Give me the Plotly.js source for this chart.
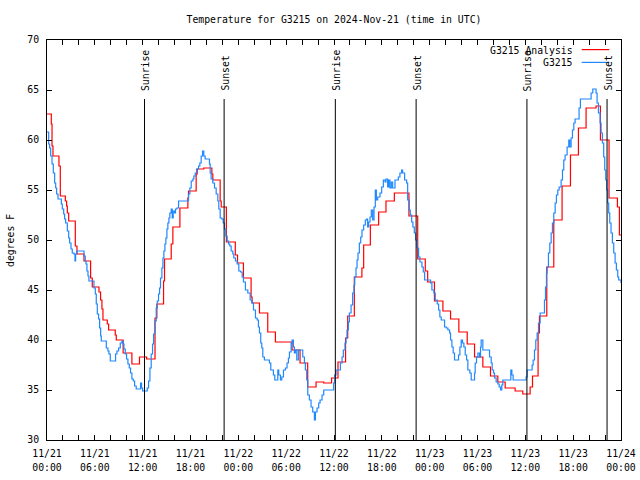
<!DOCTYPE html>
<html>
<head>
<meta charset="utf-8">
<script src="https://cdn.plot.ly/plotly-3.0.1.min.js"></script>
<style>
  html, body { margin: 0; padding: 0; background: #fff; }
  #chart { width: 640px; height: 480px; }
</style>
</head>
<body>
<div id="chart"></div>
<script>
// ---- data (hours since 2024-11-21 00:00 UTC, degrees F) ----
const analysisHours = [0,0.54,0.63,0.75,1.50,1.67,2.30,2.46,2.55,2.72,3.55,3.76,4.64,5.47,5.68,6.52,6.72,6.89,7.02,7.56,7.73,8.56,8.69,9.55,10.65,11.6,12.5,13.55,13.78,14.62,14.74,15.58,15.79,16.67,17.67,17.75,18.71,18.84,19.67,20.68,20.8,21.72,21.85,22.5,23.62,23.9,24.64,25.6,25.73,26.65,27.69,28.65,30.74,31.74,32.7,33.75,34.71,35.7,36.5,37.45,37.72,38.55,39.5,39.72,40.56,41.6,42.52,43.57,45.4,46.5,47.45,47.75,48.6,49.66,50.62,51.66,52.71,53.63,54.67,55.63,56.55,57.47,58.72,59.68,60.6,60.9,61.6,61.77,62.69,63.57,64.61,65.66,66.66,67.62,68.87,69.42,70.5,71.55,71.8,72];
const analysisTemp  = [62.6,61.6,59.4,58.4,57.4,54.4,53.9,53.4,52.7,51.9,49.4,48.6,47.9,46.2,45.3,44.8,44.0,43.1,42.0,41.6,41.0,40.5,40.0,38.7,37.6,38.3,38.1,42.2,43.6,45.9,48.1,49.6,51.3,53.2,54.2,54.9,56.6,57.1,57.2,56.6,56.0,53.9,53.3,49.8,48.5,47.7,46.2,44.3,43.7,42.7,40.8,39.8,39.0,37.7,35.3,35.8,35.7,36.2,37.8,40.2,42.4,46.3,47.2,49.5,51.5,52.8,53.9,54.7,52.4,48.1,46.9,45.8,43.9,42.9,42.1,40.8,39.6,38.3,37.3,36.4,35.8,35.2,34.9,34.6,35.3,36.4,40.7,42.4,47.3,52.0,55.4,58.5,61.2,63.2,63.4,60.0,54.2,53.3,50.5,50.5];

const stationHours = [0,0.21,0.33,0.46,0.63,0.79,0.96,1.09,1.21,1.38,1.80,1.92,2.09,2.21,2.34,2.55,2.72,2.84,3.01,3.17,3.38,3.51,3.59,3.72,4.64,4.80,4.89,5.01,5.14,5.26,5.89,6.06,6.18,6.31,6.47,6.60,6.73,6.81,7.44,7.64,7.77,7.94,8.60,8.77,8.98,9.19,9.40,9.52,9.65,9.82,9.98,10.15,10.32,10.48,10.65,10.82,10.99,11.19,11.74,11.86,11.99,12.57,12.74,12.91,13.07,13.24,13.37,13.53,13.70,13.83,13.99,14.12,14.24,14.41,14.54,14.66,14.79,14.91,15.04,15.16,15.29,15.41,15.58,15.71,15.83,16.00,16.12,16.29,16.50,17.75,17.92,18.09,18.30,18.42,18.59,18.76,19.01,19.17,19.34,19.51,19.67,19.84,20.38,20.47,20.59,20.80,21.01,21.22,21.43,21.55,21.72,21.93,22.10,22.26,22.43,22.60,22.77,22.93,23.10,23.31,23.43,23.64,23.85,24.06,
  24.27,24.48,24.64,24.89,25.19,25.48,25.69,25.90,26.15,26.36,26.52,26.65,26.81,26.94,27.07,27.27,27.9,28.07,28.4,28.57,28.95,29.07,29.28,29.45,29.66,29.91,30.11,30.28,30.41,30.62,30.74,30.91,31.03,31.16,31.33,31.53,32.08,32.29,32.41,32.58,32.71,32.91,33.12,33.33,33.54,33.67,33.87,34.08,34.25,34.5,34.71,35.96,36.09,36.26,36.8,37.01,37.17,37.38,37.51,37.63,37.8,37.93,38.14,38.34,38.51,38.6,38.76,38.89,39.01,39.18,39.35,39.51,39.72,39.93,40.1,40.22,40.35,40.52,40.68,40.85,41.02,41.18,41.31,41.48,41.77,41.98,42.19,42.4,42.52,42.73,42.86,43.02,43.19,43.36,43.65,44.07,44.27,44.48,44.61,44.86,45.11,45.24,45.44,45.57,45.74,45.9,46.07,46.24,46.41,46.61,46.78,47.03,47.2,47.37,
  48.11,48.28,48.53,48.7,48.95,49.12,49.28,49.45,49.87,50.08,50.29,50.5,50.62,50.79,50.95,51.12,51.62,51.79,51.96,52.12,52.29,52.46,52.63,52.79,53.04,53.21,53.63,53.71,53.88,54.05,54.25,54.38,54.46,54.67,55.51,55.72,55.84,56.01,56.13,56.34,56.55,56.72,56.89,57.05,57.18,58.18,58.31,58.47,60.1,60.23,60.85,60.98,61.15,61.31,61.48,61.65,61.86,62.4,62.53,62.65,62.73,62.9,63.07,63.24,63.4,63.57,63.74,63.9,64.07,64.24,64.49,64.66,64.82,64.99,65.24,65.45,65.57,65.74,65.91,66.08,66.24,66.74,66.91,68.25,68.46,68.87,69.0,69.17,69.38,69.5,69.67,69.83,69.96,70.09,70.21,70.34,70.46,70.59,70.75,70.92,71.09,71.26,71.42,71.59,71.71,72];
const stationTemp = [60.8,59.6,59.2,58.4,57.6,56.7,55.7,55.2,54.6,54.1,53.6,53.1,52.6,52.1,51.7,50.9,50.2,49.7,49.1,48.7,48.6,47.9,48.6,48.9,48.4,47.9,47.6,46.9,46.4,45.9,45.2,44.6,43.6,42.6,42.1,41.2,40.4,39.9,39.2,38.9,38.6,37.9,38.6,38.9,39.2,39.7,39.9,39.6,39.1,38.6,38.1,37.6,37.2,36.7,36.1,35.9,35.4,35.1,35.7,35.2,34.9,35.2,35.9,37.2,38.6,39.6,40.6,41.9,43.2,43.9,44.6,45.2,46.2,47.2,48.2,48.9,49.6,50.2,51.1,51.7,52.2,52.7,53.1,52.2,52.9,52.7,53.1,53.2,53.9,54.6,55.2,55.9,56.1,56.4,56.7,57.1,57.4,57.7,58.4,58.9,58.4,58.1,57.6,56.7,56.1,55.7,55.2,54.6,53.9,53.1,52.2,52.1,51.7,51.1,50.4,49.9,49.6,49.4,48.9,48.6,48.2,47.9,47.6,46.9,
  46.8,46.3,45.8,45.0,44.7,44.0,43.7,43.0,42.2,42.0,41.3,40.7,39.7,39.2,38.3,38.0,37.7,37.0,36.5,36.0,37.0,36.5,36.0,36.3,37.0,37.2,37.7,38.2,38.8,39.7,40.0,39.3,38.7,39.0,38.0,39.0,38.3,37.7,37.0,36.0,34.5,34.0,33.3,32.8,32.0,32.8,33.2,33.7,34.0,34.5,35.0,35.7,36.5,37.0,37.7,38.3,39.0,39.7,40.2,41.0,41.8,42.7,43.5,44.7,45.5,46.3,47.2,48.0,48.7,49.7,50.3,51.0,51.5,52.0,52.1,51.3,51.8,52.3,53.0,52.0,53.3,55.0,54.0,54.3,54.7,55.3,56.0,55.8,56.1,55.3,56.0,55.2,55.8,55.2,56.0,56.3,56.7,57.0,56.7,56.0,55.7,54.0,53.0,52.5,51.8,51.3,50.7,50.0,49.2,48.3,47.8,47.3,46.8,46.0,
  45.7,45.0,44.7,44.0,43.6,43.0,42.3,42.0,41.3,41.2,41.0,40.7,40.0,39.3,38.7,38.0,38.5,39.3,40.0,39.7,39.3,38.5,38.0,37.0,36.7,36.0,36.7,37.7,38.3,38.7,38.3,39.3,40.0,39.0,38.3,37.7,37.0,36.7,36.2,35.8,35.6,35.3,35.0,35.5,36.0,37.0,36.5,36.0,36.3,37.0,37.5,38.0,39.0,40.0,40.7,41.7,42.7,44.0,45.3,46.7,47.3,48.7,49.7,50.7,51.7,52.7,53.7,54.5,55.0,55.3,56.0,57.0,58.0,58.5,59.3,60.0,59.3,60.2,61.0,61.7,62.1,63.2,64.1,64.7,65.1,64.7,63.7,62.7,61.7,60.7,59.7,58.3,57.0,56.0,55.0,53.7,52.7,51.7,50.7,49.7,48.7,47.7,47.0,46.3,46.0,45.7];

const sunriseTimes = ['2024-11-21 12:14', '2024-11-22 12:10', '2024-11-23 12:12'];
const sunsetTimes  = ['2024-11-21 22:13', '2024-11-22 22:18', '2024-11-23 22:15'];

const tickHours = [];
for (let h = 0; h <= 72; h += 2) tickHours.push(h);
const dateLabels = {0:'11/21',6:'11/21',12:'11/21',18:'11/21',24:'11/22',30:'11/22',36:'11/22',42:'11/22',
  48:'11/23',54:'11/23',60:'11/23',66:'11/23',72:'11/24'};
const timeLabels = {0:'00:00',6:'06:00',12:'12:00',18:'18:00',24:'00:00',30:'06:00',36:'12:00',42:'18:00',
  48:'00:00',54:'06:00',60:'12:00',66:'18:00',72:'00:00'};

// ---- build ----
const T0 = Date.UTC(2024, 10, 21, 0, 0);
const toMs = h => T0 + h * 3600000;
const FONT = 'DejaVu Sans Mono, monospace';
const fnt = {family: FONT, size: 9.8, color: '#000'};

const traces = [
  {x: analysisHours.map(toMs), y: analysisTemp, type: 'scatter', mode: 'lines',
   line: {color: '#ff0000', width: 1.2, shape: 'hv'}, name: 'G3215 Analysis', hoverinfo: 'skip'},
  {x: stationHours.map(toMs), y: stationTemp, type: 'scatter', mode: 'lines',
   line: {color: '#1e88ff', width: 1.2, shape: 'hv'}, name: 'G3215', hoverinfo: 'skip'},
  // empty trace so the second (time-of-day label) x axis is drawn
  {x: [], y: [], xaxis: 'x2', yaxis: 'y', type: 'scatter', mode: 'lines',
   hoverinfo: 'skip', showlegend: false}
];

const shapes = [];
const annotations = [];
function sunMark(t, label) {
  shapes.push({type: 'line', xref: 'x', yref: 'y', x0: t, x1: t, y0: 30, y1: 64.1,
               line: {color: '#000', width: 1}, layer: 'above'});
  annotations.push({xref: 'x', yref: 'y', x: t, y: 64.8, text: label, textangle: -90,
                    showarrow: false, xanchor: 'center', yanchor: 'bottom', borderpad: 0,
                    xshift: 1, font: fnt});
}
sunriseTimes.forEach(t => sunMark(t, 'Sunrise'));
sunsetTimes.forEach(t => sunMark(t, 'Sunset'));

// legend (gnuplot style: text then sample)
const legendItems = [{name: 'G3215 Analysis', color: '#ff0000', y: 0.975},
                     {name: 'G3215', color: '#1e88ff', y: 0.943}];
legendItems.forEach(it => {
  annotations.push({xref: 'paper', yref: 'paper', x: 0.918, y: it.y, text: it.name,
                    showarrow: false, xanchor: 'right', yanchor: 'middle', borderpad: 0, font: fnt});
  shapes.push({type: 'line', xref: 'paper', yref: 'paper', x0: 0.9315, x1: 0.9796,
               y0: it.y + 0.001, y1: it.y + 0.001, line: {color: it.color, width: 1.2}});
});

annotations.push({xref: 'paper', yref: 'paper', x: -0.0645, y: 0.5, text: 'degrees F',
                  textangle: -90, showarrow: false, xanchor: 'center', yanchor: 'middle', font: fnt});

const layout = {
  width: 640, height: 480,
  margin: {l: 47, r: 19, t: 40, b: 40},
  paper_bgcolor: '#fff', plot_bgcolor: '#fff',
  showlegend: false,
  font: fnt,
  title: {text: 'Temperature for G3215 on 2024-Nov-21 (time in UTC)', font: fnt,
          x: 0.5, xref: 'paper', xanchor: 'center', y: 1 - 20 / 480, yanchor: 'middle'},
  xaxis: {type: 'date', range: [toMs(0), toMs(72)],
          tickmode: 'array', tickvals: tickHours.map(toMs),
          ticktext: tickHours.map(h => dateLabels[h] || ''),
          ticks: 'inside', ticklen: 5, tickwidth: 1, tickcolor: '#000',
          showline: true, linecolor: '#000', linewidth: 1, mirror: 'ticks',
          showgrid: false, zeroline: false, tickfont: fnt, ticklabelstandoff: 4},
  xaxis2: {type: 'date', range: [toMs(0), toMs(72)], overlaying: 'x', anchor: 'y', side: 'bottom',
          tickmode: 'array', tickvals: tickHours.map(toMs),
          ticktext: tickHours.map(h => timeLabels[h] || ''),
          ticks: '', showline: false, showgrid: false, zeroline: false,
          tickfont: fnt, ticklabelstandoff: 20},
  yaxis: {range: [30, 70], tickmode: 'linear', tick0: 30, dtick: 5,
          ticks: 'inside', ticklen: 5, tickwidth: 1, tickcolor: '#000',
          showline: true, linecolor: '#000', linewidth: 1, mirror: 'ticks',
          showgrid: false, zeroline: false, tickfont: fnt, ticklabelstandoff: 5},
  shapes: shapes,
  annotations: annotations
};

Plotly.newPlot('chart', traces, layout, {displayModeBar: false, staticPlot: true});
</script>
</body>
</html>
